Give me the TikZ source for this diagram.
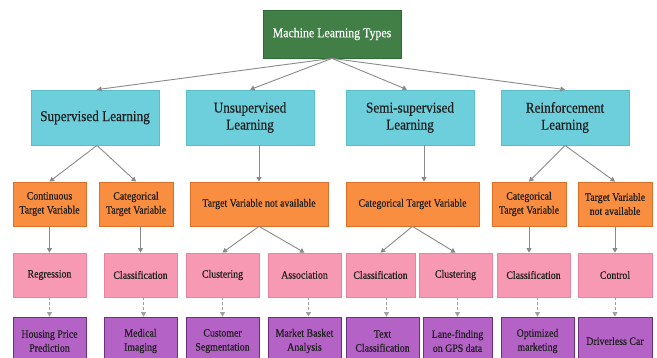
\documentclass[tikz,border=0pt]{standalone}
\usepackage{fontspec}
\setmainfont{Liberation Serif}[FakeStretch=0.88,FakeBold=0.4]
\usetikzlibrary{arrows.meta,calc}
\definecolor{rootfill}{HTML}{417F47}
\definecolor{rootline}{HTML}{2F6B35}
\definecolor{cyanfill}{HTML}{6DCFDB}
\definecolor{cyanline}{HTML}{5BBFCB}
\definecolor{orangefill}{HTML}{F98D40}
\definecolor{orangeline}{HTML}{D9702A}
\definecolor{pinkfill}{HTML}{F799B2}
\definecolor{pinkline}{HTML}{E7849F}
\definecolor{purplefill}{HTML}{B462C6}
\definecolor{purpleline}{HTML}{6E2F7E}
\definecolor{txt}{HTML}{1E1E1E}
\definecolor{arr}{HTML}{8A8A8A}
\definecolor{darr}{HTML}{A0A0A0}
\tikzset{
  box/.style={draw, line width=0.8pt, inner sep=0pt, align=center, text=txt},
  rootbox/.style={box, fill=rootfill, draw=rootline, text=white, font=\fontsize{13.5}{16}\selectfont},
  lone/.style={box, fill=cyanfill, draw=cyanline, minimum width=128pt, minimum height=55pt, font=\fontsize{15}{17}\selectfont},
  ltwo/.style={box, fill=orangefill, draw=orangeline, minimum height=44pt, font=\fontsize{11.2}{14}\selectfont},
  lthree/.style={box, fill=pinkfill, draw=pinkline, minimum height=44pt, font=\fontsize{11.2}{14}\selectfont},
  lfour/.style={box, fill=purplefill, draw=purpleline, minimum height=48pt, font=\fontsize{11.2}{14}\selectfont},
  conn/.style={draw=arr, line width=0.9pt, -{Triangle[width=5pt,length=4.5pt]}},
  dconn/.style={draw=darr, line width=0.9pt, dash pattern=on 3pt off 2pt, -{Triangle[width=5pt,length=4.5pt]}},
}
\begin{document}
\begin{tikzpicture}[x=1pt,y=-1pt]
\useasboundingbox (0,0) rectangle (657,358);
\clip (0,0) rectangle (657,358);
\fill[white] (0,0) rectangle (657,358);
% root
\node[rootbox, minimum width=138pt, minimum height=48pt] (root) at (332,34) {Machine Learning Types};
% level 1
\node[lone] (sup) at (95,117.5) {Supervised Learning};
\node[lone] (uns) at (250,117.5) {Unsupervised\\Learning};
\node[lone] (semi) at (410,117.5) {Semi-supervised\\Learning};
\node[lone] (rein) at (565,117.5) {Reinforcement\\Learning};
% level 2
\node[ltwo, minimum width=73pt] (cont) at (49.5,204) {Continuous\\Target Variable};
\node[ltwo, minimum width=74pt] (cata) at (136,204) {Categorical\\Target Variable};
\node[ltwo, minimum width=138pt] (tnaa) at (259,204) {Target Variable not available};
\node[ltwo, minimum width=133pt] (catb) at (412.5,204) {Categorical Target Variable};
\node[ltwo, minimum width=74pt] (catc) at (529,204) {Categorical\\Target Variable};
\node[ltwo, minimum width=74pt] (tnab) at (615,204) {Target Variable\\not available};
% level 3
\node[lthree, minimum width=73pt] (reg) at (49.5,275) {Regression};
\node[lthree, minimum width=73pt] (clsa) at (140.5,275) {Classification};
\node[lthree, minimum width=73pt] (clua) at (222.5,275) {Clustering};
\node[lthree, minimum width=73pt] (asso) at (304.5,275) {Association};
\node[lthree, minimum width=69pt] (clsb) at (380.5,275) {Classification};
\node[lthree, minimum width=73pt] (club) at (455.5,275) {Clustering};
\node[lthree, minimum width=73pt] (clsc) at (533.5,275) {Classification};
\node[lthree, minimum width=74pt] (ctrl) at (615,275) {Control};
% level 4
\node[lfour, minimum width=73pt] (house) at (49.5,341) {Housing Price\\Prediction};
\node[lfour, minimum width=73pt] (med) at (140.5,341) {Medical\\Imaging};
\node[lfour, minimum width=73pt] (cust) at (222.5,341) {Customer\\Segmentation};
\node[lfour, minimum width=73pt] (mkt) at (304.5,341) {Market Basket\\Analysis};
\node[lfour, minimum width=73pt] (text) at (382.5,341) {Text\\Classification};
\node[lfour, minimum width=69pt] (lane) at (457.5,341) {Lane-finding\\on GPS data};
\node[lfour, minimum width=73pt] (opt) at (537.5,341) {Optimized\\marketing};
\node[lfour, minimum width=74pt] (drv) at (615,341) {Driverless Car};
% root connectors
\draw[conn] (root.south) -- ([xshift=2pt]sup.north);
\draw[conn] (root.south) -- (uns.north);
\draw[conn] (root.south) -- ([xshift=-3pt]semi.north);
\draw[conn] (root.south) -- (rein.north);
% level 1 -> 2
\draw[conn] ([xshift=2pt]sup.south) -- (cont.north);
\draw[conn] ([xshift=2pt]sup.south) -- (cata.north);
\draw[conn] (tnaa.north |- uns.south) -- (tnaa.north);
\draw[conn] ($(semi.south)+(14,0)$) -- ($(catb.north)+(11.5,0)$);
\draw[conn] (rein.south) -- (catc.north);
\draw[conn] (rein.south) -- (tnab.north);
% level 2 -> 3
\draw[conn] (cont.south) -- (reg.north);
\draw[conn] (clsa.north |- cata.south) -- (clsa.north);
\draw[conn] (tnaa.south) -- (clua.north);
\draw[conn] (tnaa.south) -- (asso.north);
\draw[conn] (catb.south) -- (clsb.north);
\draw[conn] (catb.south) -- (club.north);
\draw[conn] (catc.south) -- (catc.south |- clsc.north);
\draw[conn] (tnab.south) -- (ctrl.north);
% level 3 -> 4
\draw[dconn] (reg.south) -- (house.north);
\draw[dconn] ([xshift=3pt]med.north |- clsa.south) -- ([xshift=3pt]med.north);
\draw[dconn] (cust.north |- clua.south) -- (cust.north);
\draw[dconn] ([xshift=4pt]mkt.north |- asso.south) -- ([xshift=4pt]mkt.north);
\draw[dconn] ([xshift=4pt]text.north |- clsb.south) -- ([xshift=4pt]text.north);
\draw[dconn] (lane.north |- club.south) -- (lane.north);
\draw[dconn] (opt.north |- clsc.south) -- (opt.north);
\draw[dconn] (ctrl.south) -- (drv.north);
\end{tikzpicture}
\end{document}
